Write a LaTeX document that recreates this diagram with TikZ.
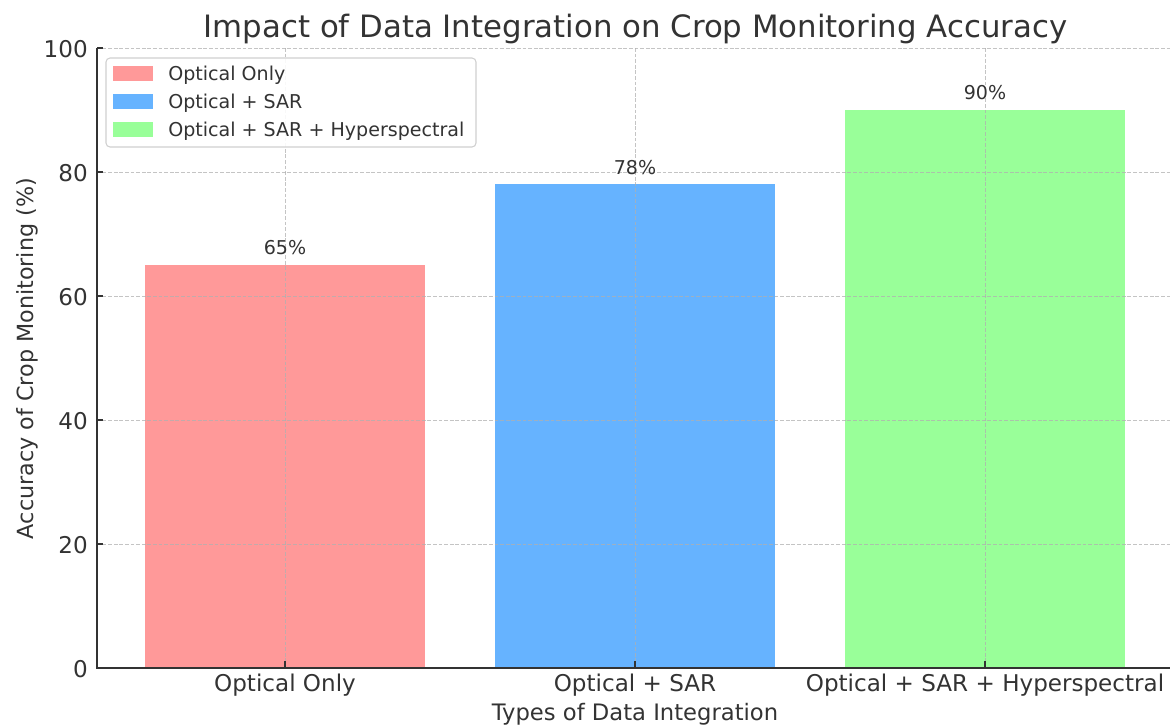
\documentclass[tikz,border=0pt]{standalone}
\usepackage{fontspec}
\setmainfont{DejaVu Sans}
\definecolor{txt}{HTML}{333333}
\definecolor{barred}{HTML}{FF9999}
\definecolor{barblue}{HTML}{66B3FF}
\definecolor{bargreen}{HTML}{99FF99}
\definecolor{gridc}{HTML}{B0B0B0}
\definecolor{legc}{HTML}{D0D0D0}
\begin{document}
\begin{tikzpicture}[x=0.75pt,y=-0.75pt,
  gridline/.style={draw=gridc, line width=0.7pt, dash pattern=on 2.8pt off 1.4pt, draw opacity=0.75},
  spine/.style={draw=txt, line width=1.1pt},
  tick/.style={draw=txt, line width=1pt},
  ticklab/.style={text=txt, font=\fontsize{17.3}{20}\selectfont, inner sep=0pt},
  axlab/.style={text=txt, font=\fontsize{17}{20}\selectfont, inner sep=0pt},
  smalllab/.style={text=txt, font=\fontsize{14.3}{17}\selectfont, inner sep=0pt},
  titlelab/.style={text=txt, font=\fontsize{23.1}{27}\selectfont, inner sep=0pt}]
\useasboundingbox (0,0) rectangle (1170,725);
% bars
\fill[barred]   (145,668) rectangle (425,265);
\fill[barblue]  (495,668) rectangle (775,184.4);
\fill[bargreen] (845,668) rectangle (1125,110);
% grid
\foreach \y in {544,420,296,172,48} \draw[gridline] (97,\y) -- (1173,\y);
\foreach \x in {285,635,985} \draw[gridline] (\x,48) -- (\x,668);
% spines
\draw[spine] (97,48) -- (97,668) -- (1173,668);
% y ticks
\foreach \y/\v in {668/0,544/20,420/40,296/60,172/80,48/100}{
  \draw[tick] (97,\y) -- (103,\y);
  \node[ticklab, anchor=base east] (yt\v) at (88,\y+9.8) {\v};
}
% x ticks
\foreach \x in {285,635,985} \draw[tick] (\x,668) -- (\x,661);
\node[ticklab, anchor=base] (xt1) at (285,691.5) {Optical Only};
\node[ticklab, anchor=base] (xt2) at (635,691.5) {Optical + SAR};
\node[ticklab, anchor=base] (xt3) at (985,691.5) {Optical + SAR + Hyperspectral};
% axis labels
\node[axlab, anchor=base] (xlabel) at (635,720.5) {Types of Data Integration};
\node[axlab, anchor=base, rotate=90, font=\fontsize{16.7}{20}\selectfont] (ylabel) at (33,358.5) {Accuracy of Crop Monitoring (\%)};
% title
\node[titlelab, anchor=base] (title) at (635.5,37.5) {Impact of Data Integration on Crop Monitoring Accuracy};
% value labels
\node[smalllab, anchor=base] (v1) at (285,254.8) {65\%};
\node[smalllab, anchor=base] (v2) at (635,174.2) {78\%};
\node[smalllab, anchor=base] (v3) at (985,99.8) {90\%};
% legend
\draw[draw=legc, fill=white, fill opacity=0.9, rounded corners=3pt, line width=0.8pt] (106,58) rectangle (476,147);
\fill[barred]   (113,66) rectangle (153,81);
\fill[barblue]  (113,94) rectangle (153,109);
\fill[bargreen] (113,122) rectangle (153,137);
\node[smalllab, anchor=base west] (l1) at (168,80.5) {Optical Only};
\node[smalllab, anchor=base west] (l2) at (168,108.5) {Optical + SAR};
\node[smalllab, anchor=base west] (l3) at (168,136.5) {Optical + SAR + Hyperspectral};
\end{tikzpicture}
\end{document}
